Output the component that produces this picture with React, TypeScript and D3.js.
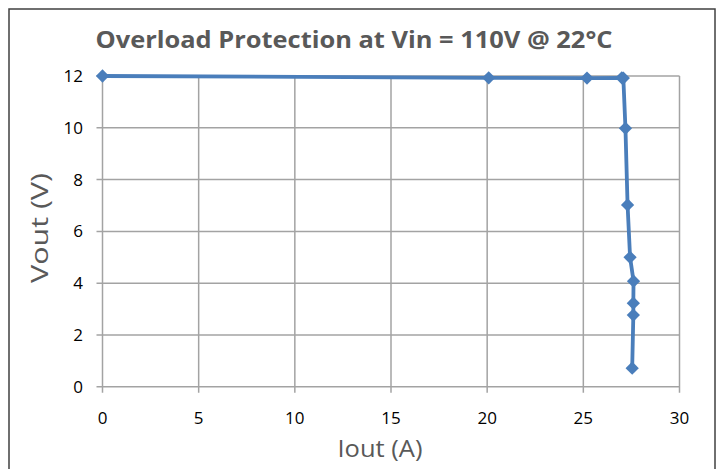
import React from "react";
import * as d3 from "d3";

const iout = [0, 20.08, 25.19, 27.0, 27.08, 27.19, 27.3, 27.43, 27.61, 27.6, 27.6, 27.54];
const vout = [12.0, 11.93, 11.92, 11.93, 11.92, 9.98, 7.02, 5.0, 4.08, 3.23, 2.77, 0.72];
const xTicks = [0, 5, 10, 15, 20, 25, 30];
const yTicks = [0, 2, 4, 6, 8, 10, 12];
const title = "Overload Protection at Vin = 110V @ 22°C";
const xLabel = "Iout (A)";
const yLabel = "Vout (V)";

export default function App() {
  const W = 720, H = 469;
  const x = d3.scaleLinear().domain([0, 30]).range([102.5, 679.5]);
  const y = d3.scaleLinear().domain([0, 12]).range([386.8, 76]);
  const pts = iout.map((v, i) => [v, vout[i]] as [number, number]);
  const line = d3.line<[number, number]>().x(d => x(d[0])).y(d => y(d[1]))(pts) || "";
  const diamond = d3.symbol().type(d3.symbolSquare).size(88)() || "";
  const grid = "#a3a3a3";
  const font = "'Open Sans', sans-serif";
  return (
    <svg width={W} height={H} style={{ position: "absolute", left: 0, top: 0, background: "#fff" }}>
      <rect x={9} y={9} width={706} height={470} fill="#fff" stroke="#404040" strokeWidth={1.5} />
      <text x={354} y={48} textAnchor="middle" fontFamily={font} fontWeight={700} fontSize={23}
        fill="#595959" textLength={517} lengthAdjust="spacingAndGlyphs">{title}</text>
      {xTicks.map(t => (
        <g key={"x" + t}>
          <line x1={x(t)} x2={x(t)} y1={y(12)} y2={y(0) + 6} stroke={grid} strokeWidth={1.5} />
          <text x={x(t)} y={424} textAnchor="middle" fontFamily={font} fontSize={17} fill="#000">{t}</text>
        </g>
      ))}
      {yTicks.map(t => (
        <g key={"y" + t}>
          <line x1={x(0) - 6} x2={x(30)} y1={y(t)} y2={y(t)} stroke={grid} strokeWidth={1.5} />
          <text x={83} y={y(t) + 6} textAnchor="end" fontFamily={font} fontSize={17} fill="#000">{t}</text>
        </g>
      ))}
      <path d={line} fill="none" stroke="#4a7ebb" strokeWidth={3.8} strokeLinejoin="round" />
      {pts.map((p, i) => (
        <path key={i} d={diamond} transform={`translate(${x(p[0])},${y(p[1])}) rotate(45)`} fill="#4a7ebb" />
      ))}
      <text x={380} y={457} textAnchor="middle" fontFamily={font} fontSize={24} fill="#595959"
        textLength={85} lengthAdjust="spacingAndGlyphs">{xLabel}</text>
      <text transform="translate(48,228) rotate(-90)" textAnchor="middle" fontFamily={font} fontSize={24} fill="#595959"
        textLength={110} lengthAdjust="spacingAndGlyphs">{yLabel}</text>
    </svg>
  );
}
